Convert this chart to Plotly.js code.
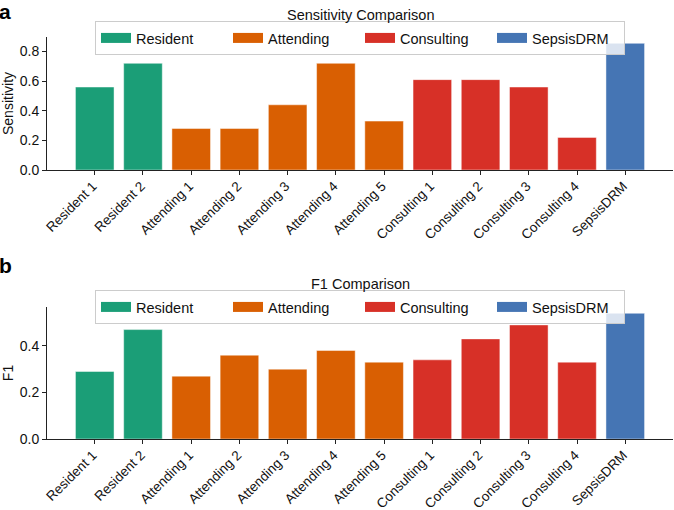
<!DOCTYPE html>
<html>
<head>
<meta charset="utf-8">
<script src="https://cdn.plot.ly/plotly-3.0.1.min.js"></script>
<style>html,body{margin:0;padding:0;background:#fff;}#chart{width:674px;height:510px;}</style>
</head>
<body>
<div id="chart"></div>
<script>
// ---- data ----
const labels = ["Resident 1","Resident 2","Attending 1","Attending 2","Attending 3","Attending 4","Attending 5","Consulting 1","Consulting 2","Consulting 3","Consulting 4","SepsisDRM"];
const groupOf = ["Resident","Resident","Attending","Attending","Attending","Attending","Attending","Consulting","Consulting","Consulting","Consulting","SepsisDRM"];
const sensitivity = [0.56,0.72,0.28,0.28,0.44,0.72,0.33,0.61,0.61,0.56,0.22,0.855];
const f1 = [0.29,0.47,0.27,0.36,0.30,0.38,0.33,0.34,0.43,0.49,0.33,0.54];
const groups = ["Resident","Attending","Consulting","SepsisDRM"];
const groupColors = {"Resident":"#1b9e77","Attending":"#d95f02","Consulting":"#d73027","SepsisDRM":"#4575b4"};

const FONT = "Liberation Sans, Arial, Helvetica, sans-serif";
const idx = labels.map((_, i) => i);

const traces = [];
function addPanel(values, xa, ya, legendName) {
  groups.forEach(g => {
    const xs = [], ys = [];
    idx.forEach(i => { if (groupOf[i] === g) { xs.push(i); ys.push(values[i]); } });
    traces.push({
      type: 'bar', x: xs, y: ys, xaxis: xa, yaxis: ya, width: 0.8,
      marker: {color: groupColors[g], line: {color: 'rgba(255,255,255,0.45)', width: 1}},
      showlegend: false, hoverinfo: 'x+y', name: g
    });
    // legend swatch entry
    traces.push({
      type: 'scatter', mode: 'lines', x: [null], y: [null], xaxis: xa, yaxis: ya,
      line: {color: groupColors[g], width: 10}, name: g, legend: legendName, showlegend: true
    });
  });
}
addPanel(sensitivity, 'x', 'y', 'legend');
addPanel(f1, 'x2', 'y2', 'legend2');

const maxS = Math.max(...sensitivity), maxF = Math.max(...f1);
const xr = [-0.99, labels.length - 1 + 0.99];

function xaxis(anchor) {
  return {
    anchor: anchor, domain: [0, 1], range: xr, tickvals: idx, ticktext: labels,
    tickangle: -45, ticks: 'outside', ticklen: 4, tickwidth: 1, tickcolor: '#222',
    ticklabelshift: -2, ticklabelstandoff: -2,
    showline: true, linecolor: '#222', linewidth: 1, showgrid: false, zeroline: false,
    tickfont: {family: FONT, size: 13.5, color: '#111'}, fixedrange: true
  };
}
function yaxis(anchor, domain, maxv, dtick, title) {
  return {
    anchor: anchor, domain: domain, range: [0, maxv * 1.05], dtick: dtick, tickformat: '.1f',
    ticks: 'outside', ticklen: 4, tickwidth: 1, tickcolor: '#222',
    showline: true, linecolor: '#222', linewidth: 1, showgrid: false, zeroline: false,
    tickfont: {family: FONT, size: 14, color: '#111'},
    title: {text: title, font: {family: FONT, size: 14, color: '#111'}, standoff: 5}
  };
}

const legendBase = {
  orientation: 'h', xanchor: 'center', x: 0.5, yanchor: 'top',
  bgcolor: 'rgba(255,255,255,0.8)', bordercolor: '#cccccc', borderwidth: 1,
  font: {family: FONT, size: 14.5, color: '#111'}, itemwidth: 30, traceorder: 'normal',
  entrywidth: 87, entrywidthmode: 'pixels'
};

const layout = {
  width: 674, height: 510,
  margin: {l: 47, r: 1, t: 0, b: 0, autoexpand: false},
  paper_bgcolor: '#fff', plot_bgcolor: '#fff',
  barmode: 'overlay', showlegend: true,
  xaxis: xaxis('y'),
  yaxis: yaxis('x', [1 - 170/510, 1 - 37/510], maxS, 0.2, 'Sensitivity'),
  xaxis2: xaxis('y2'),
  yaxis2: yaxis('x2', [1 - 439/510, 1 - 307/510], maxF, 0.2, 'F1'),
  legend: Object.assign({}, legendBase, {y: 1 - 21/510}),
  legend2: Object.assign({}, legendBase, {y: 1 - 290/510}),
  annotations: [
    {text: 'Sensitivity Comparison', xref: 'paper', yref: 'paper', x: 0.5, y: 1 - 15/510, xanchor: 'center', yanchor: 'middle', showarrow: false, font: {family: FONT, size: 14.5, color: '#111'}},
    {text: 'F1 Comparison', xref: 'paper', yref: 'paper', x: 0.5, y: 1 - 284/510, xanchor: 'center', yanchor: 'middle', showarrow: false, font: {family: FONT, size: 14.5, color: '#111'}},
    {text: '<b>a</b>', xref: 'paper', yref: 'paper', x: -50/626, y: 1 + 2/510, xanchor: 'left', yanchor: 'top', showarrow: false, font: {family: FONT, size: 21, color: '#000'}},
    {text: '<b>b</b>', xref: 'paper', yref: 'paper', x: -50/626, y: 1 - 252/510, xanchor: 'left', yanchor: 'top', showarrow: false, font: {family: FONT, size: 21, color: '#000'}}
  ]
};

Plotly.newPlot('chart', traces, layout, {displayModeBar: false, staticPlot: true});
</script>
</body>
</html>
